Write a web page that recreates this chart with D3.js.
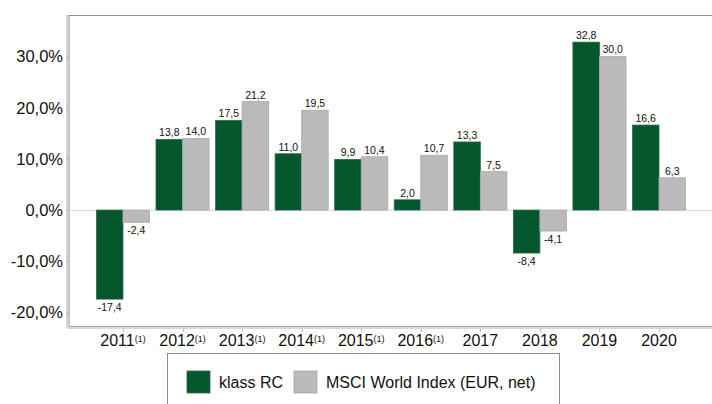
<!DOCTYPE html>
<html>
<head>
<meta charset="utf-8">
<script src="https://cdn.jsdelivr.net/npm/d3@7"></script>
<style>
  body { margin: 0; background: #fff; }
  svg { font-family: 'Liberation Sans', Arial, sans-serif; }
</style>
</head>
<body>
<svg></svg>
<script>
// data
var years = ['2011', '2012', '2013', '2014', '2015', '2016', '2017', '2018', '2019', '2020']
var footnote = ['(1)', '(1)', '(1)', '(1)', '(1)', '(1)', '', '', '', '']
var klass = [-17.4, 13.8, 17.5, 11.0, 9.9, 2.0, 13.3, -8.4, 32.8, 16.6]
var msci = [-2.4, 14.0, 21.2, 19.5, 10.4, 10.7, 7.5, -4.1, 30.0, 6.3]
var yTicks = [-20, -10, 0, 10, 20, 30]
var seriesNames = ['klass RC', 'MSCI World Index (EUR, net)']
var colors = ['#04562c', '#bababa']

var w = 712
var h = 404

var svg = d3.select('svg')
    .attr('width', w)
    .attr('height', h)

var frame = { left: 69, top: 15, right: 712, bottom: 326 }

var y = d3.scaleLinear()
    .domain([-22.65, 38.1])
    .range([frame.bottom, frame.top])

var x = d3.scaleBand()
    .domain(years)
    .range([93.2, 688.8])

var xs = d3.scaleBand()
    .domain([0, 1])
    .range([0, x.bandwidth()])
    .paddingOuter(0.122)

// comma decimals, plain hyphen for negatives
var fmt = function (v) {
  return (v < 0 ? '-' : '') + Math.abs(v).toFixed(1).replace('.', ',')
}

// frame
svg.append('line')
  .attr('x1', frame.left - 2).attr('x2', frame.left - 2)
  .attr('y1', frame.top).attr('y2', frame.bottom + 2)
  .attr('stroke', '#d4d4d4').attr('stroke-width', 2)
svg.append('line')
  .attr('x1', frame.left).attr('x2', frame.left)
  .attr('y1', frame.top).attr('y2', frame.bottom)
  .attr('stroke', '#8c8c8c')
svg.append('line')
  .attr('x1', frame.left).attr('x2', frame.right)
  .attr('y1', frame.top + 0.5).attr('y2', frame.top + 0.5)
  .attr('stroke', '#8c8c8c')
svg.append('line')
  .attr('x1', frame.left).attr('x2', frame.right)
  .attr('y1', frame.bottom + 0.5).attr('y2', frame.bottom + 0.5)
  .attr('stroke', '#a8a8a8')
svg.append('line')
  .attr('x1', frame.left - 2).attr('x2', frame.right)
  .attr('y1', frame.bottom + 2).attr('y2', frame.bottom + 2)
  .attr('stroke', '#d8d8d8').attr('stroke-width', 2)

// y axis labels
var gy = svg.append('g')
gy.selectAll('text')
  .data(yTicks)
  .enter().append('text')
  .attr('x', 63)
  .attr('y', function (d) { return y(d) + 6 })
  .attr('text-anchor', 'end')
  .style('font-size', '16.5px')
  .attr('fill', '#111')
  .text(function (d) { return fmt(d) + '%' })
gy.selectAll('line')
  .data(yTicks)
  .enter().append('line')
  .attr('x1', frame.left - 3).attr('x2', frame.left)
  .attr('y1', function (d) { return Math.round(y(d)) + 0.5 })
  .attr('y2', function (d) { return Math.round(y(d)) + 0.5 })
  .attr('stroke', '#bbb')

// zero line
svg.append('line')
  .attr('x1', frame.left).attr('x2', frame.right)
  .attr('y1', Math.round(y(0)) + 0.5).attr('y2', Math.round(y(0)) + 0.5)
  .attr('stroke', '#c4c4c4')
  .attr('stroke-dasharray', '1,1')

// bars
var rows = years.map(function (yr, i) {
  return { year: yr, vals: [klass[i], msci[i]] }
})

var groups = svg.selectAll('g.year')
  .data(rows)
  .enter().append('g')
  .attr('class', 'year')
  .attr('transform', function (d) { return 'translate(' + x(d.year) + ',0)' })

groups.selectAll('rect')
  .data(function (d) { return d.vals })
  .enter().append('rect')
  .attr('x', function (d, i) { return xs(i) })
  .attr('width', xs.bandwidth())
  .attr('y', function (d) { return y(Math.max(0, d)) })
  .attr('height', function (d) { return Math.abs(y(d) - y(0)) })
  .attr('fill', function (d, i) { return colors[i] })
  .attr('stroke', function (d, i) { return i === 0 ? '#2f6b4a' : '#a9a9a9' })
  .attr('stroke-width', 0.8)

groups.selectAll('text.val')
  .data(function (d) { return d.vals })
  .enter().append('text')
  .attr('class', 'val')
  .attr('x', function (d, i) { return xs(i) + xs.bandwidth() / 2 })
  .attr('y', function (d) { return d >= 0 ? y(d) - 3 : y(d) + 12 })
  .attr('text-anchor', 'middle')
  .style('font-size', '10.5px')
  .attr('fill', '#111')
  .text(function (d) { return fmt(d) })

// x axis ticks and labels
var gx = svg.append('g')
gx.selectAll('line')
  .data(years)
  .enter().append('line')
  .attr('x1', function (d) { return Math.round(x(d) + x.bandwidth() / 2) + 0.5 })
  .attr('x2', function (d) { return Math.round(x(d) + x.bandwidth() / 2) + 0.5 })
  .attr('y1', frame.bottom + 3).attr('y2', frame.bottom + 6)
  .attr('stroke', '#bbb')

var labels = gx.selectAll('text')
  .data(years)
  .enter().append('text')
  .attr('x', function (d) { return x(d) + x.bandwidth() / 2 })
  .attr('y', 346)
  .attr('text-anchor', 'middle')
  .attr('fill', '#111')
labels.append('tspan')
  .style('font-size', '16px')
  .text(function (d) { return d })
labels.append('tspan')
  .style('font-size', '9px')
  .attr('dy', -4)
  .text(function (d, i) { return footnote[i] })

// legend
var lg = svg.append('g')
lg.append('rect')
  .attr('x', 167.5).attr('y', 353.5)
  .attr('width', 392).attr('height', 80)
  .attr('fill', 'none')
  .attr('stroke', '#8c8c8c')

var legendX = [187, 294]
seriesNames.forEach(function (name, i) {
  lg.append('rect')
    .attr('x', legendX[i]).attr('y', 371)
    .attr('width', 23).attr('height', 22)
    .attr('fill', colors[i])
    .attr('stroke', i === 0 ? '#2f6b4a' : '#a9a9a9')
    .attr('stroke-width', 0.8)
  lg.append('text')
    .attr('x', legendX[i] + 32).attr('y', 388)
    .style('font-size', '16px')
    .attr('fill', '#111')
    .text(name)
})
</script>
</body>
</html>
